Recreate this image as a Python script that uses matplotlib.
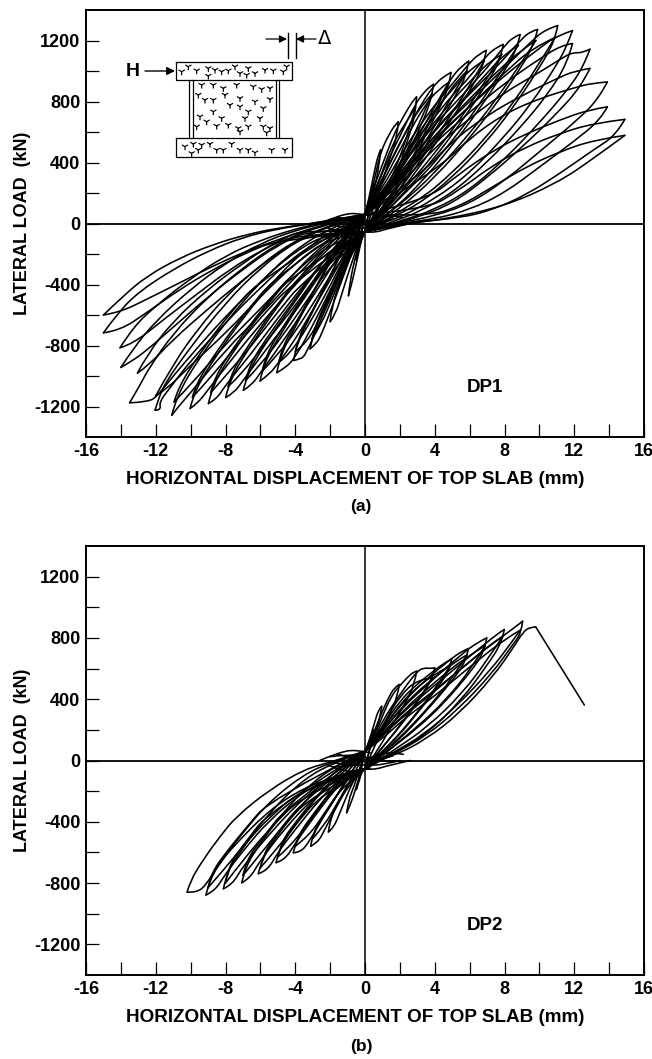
import numpy as np
import matplotlib
matplotlib.use('Agg')
import matplotlib.pyplot as plt
from matplotlib.path import Path
from matplotlib.patches import PathPatch

plt.rcParams['font.family'] = ['Liberation Sans', 'DejaVu Sans']
plt.rcParams['font.weight'] = 'bold'

W, H = 652, 1059

x_ticks = list(range(-16, 17, 2))
y_ticks = list(range(-1200, 1201, 200))

# each loop: (tip, rising branch from the origin, falling branch from the tip)
dp1_pos = [
    ((0.5, 260), [(0.15, 120), (0.35, 210)], [(0.4, 170), (0.2, 70)]),
    ((0.9, 483), [(0.2, 150), (0.5, 320), (0.75, 450)], [(0.82, 380), (0.5, 210), (0.2, 70)]),
    ((1.91, 667), [(0.3, 170), (0.6, 320), (0.9, 470), (1.4, 590), (1.75, 650)], [(1.83, 560), (1.4, 420), (0.9, 240), (0.4, 80)]),
    ((2.96, 830), [(0.38, 200), (0.96, 374), (1.53, 548), (1.9, 640), (2.5, 760), (2.85, 820)], [(2.87, 700), (2.4, 530), (1.91, 352), (0.96, 136)]),
    ((3.93, 913), [(0.5, 190), (1.2, 390), (2, 570), (2.9, 790), (3.5, 875), (3.85, 908)], [(3.8, 800), (3, 590), (2, 340), (1, 140), (0.5, 50)]),
    ((4.93, 990), [(0.57, 200), (1.34, 372), (2.3, 593), (3.25, 787), (3.92, 900), (4.5, 965)], [(4.78, 873), (3.82, 656), (2.87, 440), (1.91, 243), (0.96, 91)]),
    ((5.95, 1065), [(0.7, 160), (1.34, 243), (2.29, 417), (3.25, 613), (4.2, 808), (4.93, 950), (5.5, 1030)], [(5.8, 960), (5, 800), (3.9, 590), (2.8, 380), (1.8, 190), (0.9, 60)]),
    ((6.95, 1135), [(1.05, 243), (2, 439), (2.96, 613), (3.92, 765), (4.87, 896), (5.9, 1040), (6.5, 1110)], [(6.8, 1030), (6, 870), (4.5, 600), (3, 350), (1.5, 130), (0.7, 40)]),
    ((7.93, 1174), [(1, 210), (2, 390), (3, 560), (4, 700), (5, 840), (6, 960), (6.95, 1100), (7.6, 1160)], [(7.75, 1070), (7, 920), (5.5, 660), (4, 430), (2, 170), (1, 60)]),
    ((8.9, 1239), [(1, 190), (2, 360), (3, 510), (4, 650), (5.5, 830), (7, 1020), (7.9, 1150), (8.5, 1225)], [(8.7, 1140), (8, 1000), (6.5, 740), (5, 510), (3, 240), (1.5, 80)]),
    ((9.9, 1272), [(1, 170), (2, 330), (4, 610), (6, 850), (7.5, 1020), (8.9, 1200), (9.5, 1262)], [(9.7, 1180), (9, 1030), (7.5, 780), (6, 560), (4, 300), (2, 100), (1, 25)]),
    ((11.05, 1298), [(2, 310), (4, 580), (6, 800), (8, 1020), (9.5, 1190), (10.3, 1270)], [(10.9, 1200), (10, 1020), (8.5, 760), (7, 540), (5, 300), (3, 120), (1, 10)]),
    ((11.9, 1265), [(2, 300), (4, 560), (6, 770), (8, 970), (10, 1150), (11, 1230)], [(11.6, 1170), (11, 1040), (9.5, 780), (8, 570), (6, 330), (4, 160), (2, 40), (1, 5)]),
    ((11.9, 1180), [(2, 280), (4, 530), (6, 730), (8, 920), (10, 1080), (11.3, 1170)], [(11.6, 1050), (10.5, 850), (9, 640), (7, 400), (5, 200), (3, 70), (1.5, 10)]),
    ((12.9, 1143), [(2, 250), (4, 500), (6, 690), (8, 860), (10, 990), (11.5, 1100), (11.95, 1120), (12.5, 1120)], [(12.5, 1020), (11.5, 860), (10, 660), (8, 420), (6, 220), (4, 90), (2, 15)]),
    ((12.9, 1017), [(3, 300), (5, 540), (7, 710), (9, 840), (11, 950), (12, 1000)], [(12.4, 900), (11, 720), (9, 500), (7, 300), (5, 130), (3, 40), (1.8, 5)]),
    ((13.9, 928), [(4, 340), (6, 560), (8, 720), (10, 820), (12, 890), (13, 920)], [(13.4, 820), (12.3, 690), (10, 470), (8, 280), (6, 130), (4, 50), (2, 5)]),
    ((13.9, 765), [(3.5, 150), (5.45, 330), (7.36, 480), (9.27, 590), (11.2, 680), (12.8, 745)], [(13.5, 680), (12, 540), (10, 370), (8, 200), (6, 90), (4, 30), (2.2, 5)]),
    ((14.9, 683), [(3.5, 90), (5.45, 222), (7.36, 385), (9.27, 504), (11.2, 592), (13.1, 657)], [(14.4, 580), (13.1, 483), (11.2, 330), (9.27, 190), (7.36, 91), (5.45, 36), (2.4, 5)]),
    ((14.9, 578), [(3.5, 45), (5.45, 113), (7.36, 243), (9.27, 374), (11.2, 472), (13.1, 547)], [(13, 417), (11, 265), (8, 113), (4.5, 26), (2.6, 5)]),
    # repeat cycles at the same level
    ((2.9, 760), [(0.5, 200), (1, 340), (1.5, 500), (2.2, 640)], [(2.4, 570), (1.9, 400), (1, 170)]),
    ((3.85, 850), [(0.6, 190), (1.3, 370), (2, 530), (3, 740)], [(3.2, 680), (2.4, 480), (1.4, 240), (0.7, 90)]),
    ((4.85, 930), [(0.6, 180), (1.4, 350), (2.4, 570), (3.4, 770), (4.2, 880)], [(4.1, 760), (3, 490), (2, 280), (1, 110)]),
    ((5.85, 1000), [(0.8, 160), (1.5, 260), (2.5, 430), (3.5, 640), (4.5, 810), (5.3, 940)], [(5, 840), (3.9, 620), (2.8, 410), (1.8, 210)]),
    ((6.85, 1070), [(1.1, 220), (2.1, 420), (3.1, 600), (4.1, 760), (5.1, 890), (6.1, 1020)], [(6, 900), (4.5, 640), (3, 380), (1.5, 150)]),
    ((7.85, 1110), [(1.1, 200), (2.1, 380), (3.1, 540), (4.1, 680), (5.1, 820), (6.1, 940), (7.1, 1060)], [(7, 950), (5.5, 690), (4, 460), (2, 190)]),
    ((8.8, 1170), [(1.1, 180), (2.1, 350), (4.1, 630), (5.6, 810), (7.1, 1000), (8, 1110)], [(8, 1030), (6.5, 770), (5, 540), (3, 270)]),
    ((9.8, 1200), [(1.1, 160), (2.1, 320), (4.1, 590), (6.1, 830), (7.6, 1000), (9, 1140)], [(9, 1060), (7.5, 810), (6, 590), (4, 330), (2, 120)]),
    ((10.9, 1220), [(2.1, 290), (4.1, 560), (6.1, 780), (8.1, 1000), (9.6, 1150)], [(10, 1050), (8.5, 790), (7, 570), (5, 330), (3, 140)]),
]

# each loop: (tip, loading branch read from the tip inward, unloading branch from the tip)
dp1_neg = [
    ((-0.5, -240), [(-0.35, -170), (-0.15, -80)], [(-0.4, -180), (-0.2, -70)]),
    ((-0.95, -474), [(-0.7, -370), (-0.4, -210), (-0.15, -80)], [(-0.85, -370), (-0.55, -220), (-0.25, -80)]),
    ((-2, -644), [(-1.7, -600), (-1.3, -450), (-0.8, -270), (-0.3, -100)], [(-1.9, -540), (-1.4, -370), (-0.8, -190), (-0.4, -70)]),
    ((-3.15, -822), [(-2.8, -790), (-2.5, -730), (-1.8, -520), (-1, -270), (-0.5, -120)], [(-2.95, -710), (-2.2, -510), (-1.4, -290), (-0.7, -100)]),
    ((-4.1, -898), [(-3.7, -890), (-3.4, -860), (-2.6, -650), (-1.8, -440), (-0.9, -200)], [(-3.9, -780), (-3, -580), (-2, -340), (-1, -120)]),
    ((-5.06, -978), [(-4.6, -950), (-4, -880), (-3, -670), (-2, -440), (-1, -200)], [(-4.85, -860), (-4, -680), (-3, -460), (-2, -250), (-1, -80)]),
    ((-6.02, -1033), [(-5.5, -990), (-5, -920), (-4, -760), (-3, -570), (-1.5, -270), (-0.7, -100)], [(-5.8, -910), (-4.7, -700), (-3.5, -480), (-2, -230), (-1, -70)]),
    ((-6.98, -1094), [(-6.5, -1060), (-6, -980), (-4.5, -740), (-3, -480), (-2, -300), (-1, -120)], [(-6.75, -980), (-5.5, -750), (-4, -510), (-2.5, -260), (-1.2, -80)]),
    ((-7.99, -1141), [(-7.5, -1110), (-7, -1030), (-5.5, -800), (-4, -580), (-2.5, -320), (-1.2, -130)], [(-7.75, -1020), (-6.5, -790), (-5, -540), (-3.5, -320), (-2, -130), (-1, -30)]),
    ((-8.98, -1181), [(-8.5, -1150), (-8, -1060), (-6.5, -850), (-5, -620), (-3.5, -400), (-1.8, -170)], [(-8.75, -1060), (-7.5, -830), (-6, -590), (-4, -310), (-2, -100), (-1, -20)]),
    ((-10.03, -1213), [(-9.6, -1180), (-9, -1090), (-7.5, -870), (-6, -660), (-4, -400), (-2, -160)], [(-9.8, -1100), (-8.5, -860), (-7, -620), (-5, -340), (-3, -130), (-1.5, -25)]),
    ((-11.08, -1257), [(-10.7, -1200), (-10, -1110), (-8, -830), (-6, -600), (-4, -350), (-2, -120)], [(-10.8, -1130), (-9.5, -880), (-8, -650), (-6, -380), (-4, -170), (-2, -30)]),
    ((-12, -1130), [(-11.4, -1090), (-10, -930), (-8, -720), (-6, -480), (-4, -260), (-2, -90)], [(-11, -920), (-9.5, -680), (-8, -480), (-6, -270), (-4, -110), (-2, -10)]),
    ((-12.04, -1224), [(-11.7, -1224), (-11.8, -1170), (-11.2, -1080), (-10, -900), (-8, -650), (-6, -420), (-4, -210), (-2, -70)], [(-11.9, -1170), (-11.5, -1050), (-10, -810), (-8, -520), (-6, -290), (-4, -120), (-2, -15)]),
    ((-13.5, -1176), [(-12.4, -1170), (-11.9, -1130), (-11, -1000), (-9.5, -800), (-8, -610), (-6, -380), (-4, -180), (-2, -60)], [(-12.9, -1060), (-12.4, -950), (-11, -720), (-9, -480), (-7, -290), (-5, -130), (-3, -30)]),
    ((-13.05, -981), [(-12.4, -930), (-11, -760), (-9, -560), (-7, -370), (-5, -190), (-3, -60)], [(-12.5, -860), (-11, -640), (-9, -430), (-7, -260), (-5, -110), (-3, -25)]),
    ((-14, -944), [(-13.4, -905), (-12.5, -830), (-11, -680), (-9, -480), (-7, -300), (-5, -140), (-3, -35)], [(-13.3, -820), (-12, -640), (-10, -430), (-8, -260), (-6, -130), (-4, -45), (-2.4, 0)]),
    ((-14.05, -815), [(-13.3, -790), (-11.5, -625), (-9.6, -460), (-7.75, -300), (-5.85, -170), (-3.95, -70)], [(-13.3, -680), (-12, -540), (-10, -360), (-8, -210), (-6, -110), (-4, -35), (-2.6, 0)]),
    ((-15, -717), [(-14.05, -702), (-12.5, -583), (-10.6, -430), (-8.7, -300), (-6.8, -191), (-4.9, -104)], [(-14.2, -590), (-13, -450), (-11, -300), (-9, -180), (-7, -90), (-5, -35), (-3, 0)]),
    ((-15, -600), [(-14.05, -582), (-12.5, -496), (-10.6, -387), (-8.7, -278), (-6.8, -180), (-4.9, -104), (-3.4, -39)], [(-13.86, -474), (-12.5, -344), (-10.6, -224), (-8.7, -137), (-6.8, -72), (-4.9, -28), (-3, 0)]),
    # repeat cycles at the same level
    ((-3.05, -760), [(-2.5, -660), (-1.8, -470), (-1, -240)], [(-2.85, -670), (-2.1, -480), (-1.3, -270)]),
    ((-4, -840), [(-3.3, -780), (-2.5, -600), (-1.7, -400), (-0.9, -180)], [(-3.8, -740), (-2.9, -550), (-1.9, -320), (-1, -110)]),
    ((-4.95, -910), [(-4.3, -860), (-3, -620), (-2, -410), (-1, -180)], [(-4.75, -810), (-3.9, -640), (-2.9, -430), (-1.9, -230)]),
    ((-5.9, -970), [(-5, -860), (-4, -710), (-3, -530), (-1.5, -250)], [(-5.7, -860), (-4.6, -660), (-3.4, -450), (-2, -210)]),
    ((-6.85, -1030), [(-6, -930), (-4.5, -700), (-3, -450), (-2, -280)], [(-6.65, -930), (-5.4, -710), (-3.9, -480), (-2.4, -240)]),
    ((-7.85, -1070), [(-7, -980), (-5.5, -750), (-4, -540), (-2.5, -300)], [(-7.65, -970), (-6.4, -750), (-4.9, -510), (-3.4, -300)]),
    ((-8.85, -1110), [(-8, -1000), (-6.5, -800), (-5, -580), (-3.5, -370)], [(-8.65, -1010), (-7.4, -790), (-5.9, -560), (-3.9, -290)]),
    ((-9.9, -1140), [(-9, -1030), (-7.5, -820), (-6, -620), (-4, -370)], [(-9.7, -1050), (-8.4, -820), (-6.9, -590), (-4.9, -320)]),
    ((-10.95, -1170), [(-10, -1060), (-8, -790), (-6, -560), (-4, -320)], [(-10.7, -1070), (-9.4, -840), (-7.9, -610), (-5.9, -350)]),
]

dp2_pos = [
    ((0.5, 200), [(0.15, 90), (0.35, 170)], [(0.4, 130), (0.2, 50)]),
    ((0.96, 354), [(0.2, 110), (0.5, 230), (0.8, 340)], [(0.85, 270), (0.5, 150), (0.2, 50)]),
    ((1.97, 496), [(0.3, 120), (0.8, 270), (1.3, 400), (1.7, 480)], [(1.85, 410), (1.4, 300), (0.9, 170), (0.4, 60)]),
    ((2.96, 583), [(0.5, 150), (1, 290), (1.5, 420), (2, 490), (2.5, 550), (2.8, 578)], [(2.85, 500), (2.3, 370), (1.5, 220), (0.8, 80)]),
    ((4.0, 605), [(0.5, 130), (1, 260), (2, 430), (2.5, 510), (2.96, 575), (3.3, 605), (3.9, 600)], [(3.85, 530), (3, 380), (2, 220), (1, 90)]),
    ((4.97, 663), [(1, 220), (2, 390), (3, 500), (4, 590), (4.6, 640)], [(4.85, 590), (4, 450), (3, 310), (2, 170), (1, 60)]),
    ((5.93, 731), [(1, 200), (2, 360), (3.5, 530), (5, 670), (5.6, 715)], [(5.8, 650), (5, 520), (3.5, 320), (2, 140), (1, 50)]),
    ((6.98, 800), [(1, 190), (2, 330), (4, 540), (5.5, 690), (6.5, 775)], [(6.85, 710), (6, 570), (4.5, 370), (3, 210), (1.4, 70)]),
    ((7.99, 855), [(1, 170), (2, 300), (4, 490), (6, 680), (7.3, 800), (7.9, 850)], [(7.85, 770), (7, 620), (5.5, 390), (3.5, 170), (1.6, 45)]),
    ((9.04, 909), [(1, 160), (2, 270), (4, 450), (6, 650), (8, 820), (8.6, 870)], [(8.95, 830), (8.5, 760), (7.3, 570), (5.4, 340), (3.5, 160), (1.6, 40)]),
    # repeat cycles at the same level
    ((3.9, 540), [(0.6, 130), (1.2, 270), (2, 420), (3, 530)], [(3.2, 420), (2.2, 260), (1.2, 110)]),
    ((4.9, 620), [(1.1, 220), (2.1, 380), (3.1, 490), (4.1, 570)], [(4.1, 480), (3.1, 330), (2.1, 190), (1.1, 70)]),
    ((5.85, 690), [(1.1, 200), (2.1, 350), (3.6, 510), (5.1, 640)], [(5.1, 550), (3.6, 340), (2.1, 160), (1.1, 60)]),
    ((6.9, 750), [(1.1, 180), (2.1, 320), (4.1, 520), (5.6, 660)], [(6.1, 600), (4.6, 390), (3.1, 230), (1.5, 80)]),
    ((7.9, 810), [(1.1, 170), (2.1, 290), (4.1, 470), (6.1, 650), (7.2, 760)], [(7.1, 670), (5.6, 440), (3.6, 220), (1.7, 70)]),
    ((8.9, 850), [(1.1, 150), (2.1, 260), (4.1, 430), (6.1, 620), (8.1, 800)], [(8.4, 770), (7.2, 590), (5.3, 360), (3.4, 170), (1.6, 50)]),
]

dp2_neg = [
    ((-0.5, -190), [(-0.35, -140), (-0.15, -60)], [(-0.4, -140), (-0.2, -50)]),
    ((-1.05, -341), [(-0.8, -280), (-0.5, -170), (-0.2, -60)], [(-0.95, -260), (-0.6, -160), (-0.3, -50)]),
    ((-2.1, -467), [(-1.8, -440), (-1.4, -330), (-0.9, -190), (-0.4, -70)], [(-2, -380), (-1.4, -250), (-0.8, -120), (-0.4, -40)]),
    ((-3.11, -559), [(-2.7, -535), (-2.3, -450), (-1.6, -290), (-0.8, -140)], [(-3, -470), (-2.2, -330), (-1.4, -190), (-0.7, -60)]),
    ((-4.11, -602), [(-3.7, -600), (-3.2, -530), (-2.4, -370), (-1.4, -190), (-0.6, -60)], [(-3.95, -520), (-3, -370), (-2, -210), (-1, -70)]),
    ((-5.1, -667), [(-4.6, -650), (-4, -540), (-3, -380), (-1.8, -200), (-0.8, -70)], [(-4.9, -570), (-4, -420), (-3, -270), (-1.8, -110), (-0.8, -15)]),
    ((-6.12, -739), [(-5.6, -720), (-5, -600), (-4, -450), (-2.5, -240), (-1, -70)], [(-5.9, -640), (-5, -480), (-3.5, -270), (-2, -100), (-1, -15)]),
    ((-7.07, -798), [(-6.6, -770), (-6, -650), (-4.5, -430), (-3, -250), (-1.2, -80)], [(-6.85, -690), (-6, -540), (-4.5, -310), (-3, -140), (-1.5, -25)]),
    ((-8.12, -837), [(-7.6, -810), (-7, -690), (-5.5, -480), (-3.5, -240), (-1.5, -80)], [(-7.9, -720), (-7, -570), (-5.5, -340), (-3.5, -120), (-1.8, -15)]),
    ((-9.12, -878), [(-8.6, -850), (-8, -740), (-7, -590), (-5.5, -390), (-3.5, -200), (-1.6, -90)], [(-8.9, -770), (-8, -620), (-7, -470), (-5.5, -270), (-3.5, -90), (-2, -15)]),
    ((-10.2, -859), [(-9.65, -863), (-9.08, -809), (-8.5, -689), (-7.36, -537), (-5.45, -320), (-3.5, -178), (-1.6, -102)], [(-10.03, -787), (-9.27, -646), (-8.3, -493), (-7.36, -363), (-5.45, -189), (-3.5, -59), (-2, -11)]),
    # repeat cycles at the same level
    ((-3, -510), [(-2.3, -420), (-1.5, -260), (-0.8, -120)], [(-2.8, -430), (-2, -300), (-1.2, -150)]),
    ((-4, -560), [(-3.2, -490), (-2.3, -340), (-1.3, -170)], [(-3.8, -480), (-2.9, -340), (-1.9, -190)]),
    ((-5, -630), [(-4.1, -540), (-3, -360), (-1.8, -180)], [(-4.8, -530), (-3.9, -390), (-2.9, -250)]),
    ((-6, -700), [(-5, -570), (-4, -420), (-2.5, -220)], [(-5.8, -600), (-4.9, -450), (-3.4, -250)]),
    ((-7, -750), [(-6, -610), (-4.5, -400), (-3, -230)], [(-6.8, -650), (-5.9, -510), (-4.4, -290)]),
    ((-8, -800), [(-7, -650), (-5.5, -450), (-3.5, -220)], [(-7.8, -680), (-6.9, -540), (-5.4, -320)]),
    ((-9, -830), [(-8, -700), (-7, -560), (-5.5, -370), (-3.5, -180)], [(-8.8, -730), (-7.9, -590), (-6.9, -450), (-5.4, -250)]),
]

# small passes through the origin, both specimens
origin_lines = [
    [(-2.6, 0), (-1.4, 58), (-0.4, 70), (0.3, 50)],
    [(-2.2, -25), (-1.4, -68), (-0.4, -70), (0.3, -50)],
    [(2.6, 0), (1.4, -30), (0.4, -65), (-0.3, -50)],
    [(-2, 25), (-1, 40), (0, 25), (1, -10), (2, -2)],
    [(-2, -10), (-1, -30), (0, -30), (1, -30), (2, 0)],
    [(-1.6, 45), (-0.8, 10), (0, 0), (0.8, 5), (1.6, 30)],
    [(-1.8, -40), (-0.8, -45), (0.2, 15), (1.2, 60), (2.2, 40)],
]

# last push of DP2 to failure
dp2_final_up = [(0, -30), (1.63, 28), (3.54, 140), (5.45, 311), (7.36, 550), (8.5, 735), (9.1, 845), (9.5, 870), (9.79, 872)]
dp2_final_down = [(9.79, 872), (12.58, 362)]

# aggregate specks of the inset sketch, pixels on a 3x crop
specks_top = [(545, 215), (565, 200), (590, 212), (625, 205), (645, 210), (665, 215), (685, 212),
              (705, 200), (720, 220), (745, 205), (765, 220), (795, 210), (820, 212), (850, 215),
              (860, 200), (625, 228), (740, 225)]
specks_wall = [(605, 255), (640, 255), (670, 265), (710, 255), (760, 260), (785, 268), (810, 265),
               (595, 285), (615, 300), (640, 300), (675, 285), (690, 315), (720, 295), (765, 305),
               (810, 298), (720, 320), (745, 335), (790, 325), (640, 335), (600, 350), (620, 365),
               (665, 355), (735, 355), (780, 355), (590, 380), (650, 378), (685, 375), (715, 385),
               (745, 380), (790, 380), (810, 385), (800, 398), (720, 395)]
specks_bottom = [(555, 440), (580, 432), (605, 435), (630, 432), (650, 450), (670, 450), (695, 432),
                 (720, 450), (745, 450), (765, 458), (815, 450), (855, 450), (575, 460), (595, 450)]


def branch(ax, pts):
    # quadratic path through the read points, the tips stay sharp
    verts = [pts[0]]
    codes = [Path.MOVETO]
    for i in range(1, len(pts) - 1):
        mid = ((pts[i][0] + pts[i + 1][0]) / 2, (pts[i][1] + pts[i + 1][1]) / 2)
        if i == len(pts) - 2:
            mid = pts[-1]
        verts += [pts[i], mid]
        codes += [Path.CURVE3, Path.CURVE3]
    if len(pts) == 2:
        verts.append(pts[1])
        codes.append(Path.LINETO)
    ax.add_patch(PathPatch(Path(verts, codes), fill=False, edgecolor='k', lw=1.15, capstyle='round', joinstyle='round'))


def draw_pos(ax, loops):
    for tip, up, down in loops:
        branch(ax, [(0, 60)] + up + [tip])
        branch(ax, [tip] + down + [(0, -55)])


def draw_neg(ax, loops):
    for tip, load, unload in loops:
        branch(ax, [(0, -55)] + load[::-1] + [tip])
        branch(ax, [tip] + unload + [(0, 60)])


def setup(ax, name):
    ax.axhline(0, color='k', lw=1.3)
    ax.axvline(0, color='k', lw=1.1)
    ax.set_xlim(-16, 16)
    ax.set_ylim(-1400, 1400)
    ax.set_xticks(x_ticks)
    ax.set_xticklabels([str(v) if v % 4 == 0 else '' for v in x_ticks])
    ax.set_yticks(y_ticks)
    ax.set_yticklabels([str(v) if v % 400 == 0 else '' for v in y_ticks])
    ax.tick_params(direction='in', length=9.5, width=0.9, labelsize=13, pad=4)
    for s in ax.spines.values():
        s.set_linewidth(1.4)
    ax.set_xlabel('HORIZONTAL DISPLACEMENT OF TOP SLAB (mm)', fontsize=13.6, fontweight='bold', labelpad=8, x=0.482)
    ax.set_ylabel('LATERAL LOAD  (kN)', fontsize=13, fontweight='bold', labelpad=2)
    ax.text(6.9, -1076, name, fontsize=13.5, fontweight='bold', ha='center', va='center')
    for line in origin_lines:
        branch(ax, line)


fig = plt.figure(figsize=(W / 100, H / 100), dpi=100)
ax1 = fig.add_axes([86 / W, 1 - 437 / H, 558 / W, 427 / H])
ax2 = fig.add_axes([86 / W, 1 - 975 / H, 558 / W, 429 / H])

draw_pos(ax1, dp1_pos)
draw_neg(ax1, dp1_neg)
draw_pos(ax2, dp2_pos)
draw_neg(ax2, dp2_neg)
branch(ax2, dp2_final_up)
branch(ax2, dp2_final_down)
setup(ax1, 'DP1')
setup(ax2, 'DP2')

fig.text(361 / W, 1 - 507 / H, '(a)', fontsize=12.5, ha='center', va='center')
fig.text(361 / W, 1 - 1046 / H, '(b)', fontsize=12.5, ha='center', va='center')

# inset sketch, drawn in figure pixels
sk = fig.add_axes([0, 0, 1, 1], facecolor='none')
sk.set_xlim(0, W)
sk.set_ylim(H, 0)
sk.axis('off')
for x0, y0, x1, y1 in [(176, 62, 292, 80), (176, 138, 292, 157)]:
    sk.plot([x0, x1, x1, x0, x0], [y0, y0, y1, y1, y0], color='k', lw=0.9)
for x in (189, 192.5, 275.5, 279):
    sk.plot([x, x], [80, 138], color='k', lw=0.9)
for x in (287.5, 295.5):
    sk.plot([x, x], [33, 58], color='k', lw=1.0)
sk.annotate('', xy=(287, 39), xytext=(266, 39), arrowprops=dict(arrowstyle='-|>', color='k', lw=0.9, mutation_scale=11, shrinkA=0, shrinkB=0))
sk.annotate('', xy=(296, 39), xytext=(316, 39), arrowprops=dict(arrowstyle='-|>', color='k', lw=0.9, mutation_scale=11, shrinkA=0, shrinkB=0))
sk.annotate('', xy=(175, 71), xytext=(145, 71), arrowprops=dict(arrowstyle='-|>', color='k', lw=1.0, mutation_scale=12, shrinkA=0, shrinkB=0))
sk.text(133, 71, 'H', fontsize=14, ha='center', va='center')
sk.text(325, 39, '\u0394', fontsize=14, fontweight='normal', family='DejaVu Sans', ha='center', va='center')

speck = Path([(0, 0), (0, -1), (0, 0), (0.87, 0.5), (0, 0), (-0.87, 0.5)],
             [Path.MOVETO, Path.LINETO, Path.MOVETO, Path.LINETO, Path.MOVETO, Path.LINETO])
pts = np.array(specks_top + specks_wall + specks_bottom) / 3
sk.scatter(pts[:, 0], pts[:, 1], marker=speck, s=26, facecolors='none', edgecolors='k', linewidths=0.85)

fig.savefig('out.png', dpi=100)
